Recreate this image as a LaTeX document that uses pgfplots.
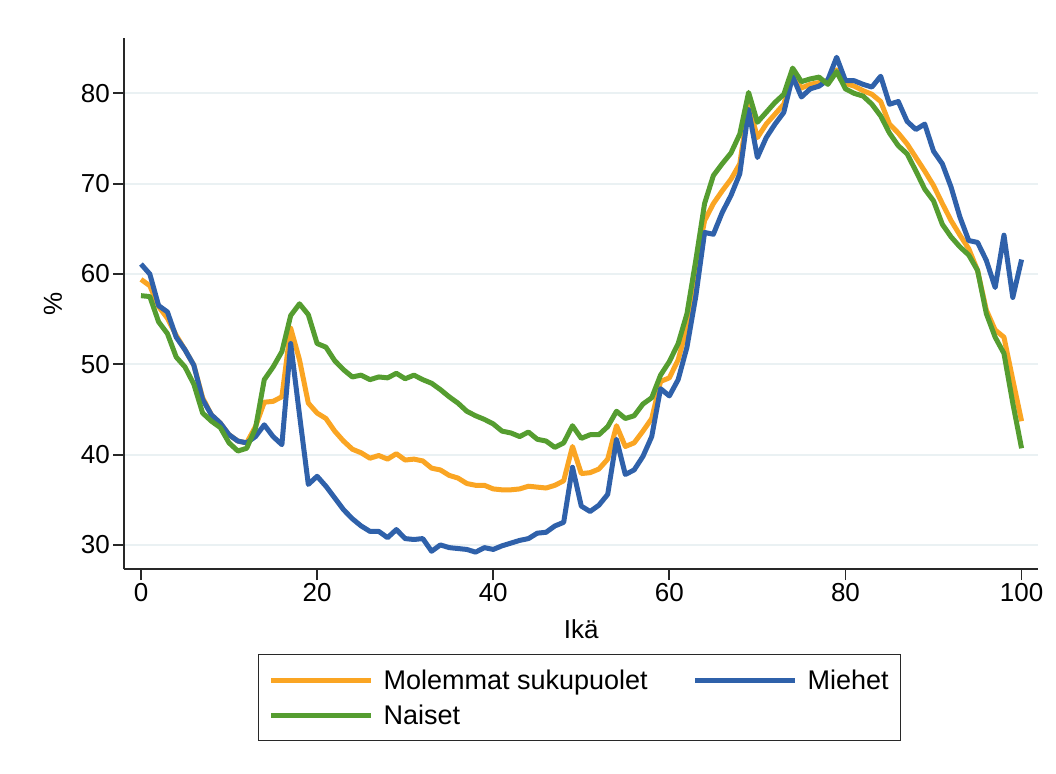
\documentclass[border=0pt]{standalone}
\usepackage{pgfplots}
\pgfplotsset{compat=1.18}
\usepackage{pgfplotstable}
\usepackage{fontspec}
\setmainfont{Liberation Sans}
\definecolor{cOr}{RGB}{250,165,35}
\definecolor{cBl}{RGB}{47,97,170}
\definecolor{cGr}{RGB}{85,157,48}
\definecolor{cGrid}{RGB}{234,241,243}
\definecolor{cAx}{RGB}{40,40,40}

\pgfplotstableread{
age both men women
0 59.4 61.1 57.6
1 58.7 60.0 57.5
2 56.4 56.5 54.7
3 55.1 55.8 53.4
4 53.2 53.0 50.8
5 51.6 51.6 49.7
6 49.9 49.9 47.8
7 46.3 46.1 44.6
8 44.4 44.4 43.7
9 43.5 43.5 43.0
10 42.2 42.2 41.3
11 41.5 41.5 40.4
12 41.3 41.3 40.7
13 43.1 42.0 42.9
14 45.8 43.3 48.3
15 45.9 42.0 49.7
16 46.4 41.1 51.4
17 54.0 52.3 55.4
18 50.5 44.4 56.7
19 45.7 36.7 55.5
20 44.6 37.6 52.3
21 44.0 36.5 51.9
22 42.6 35.2 50.4
23 41.5 33.9 49.4
24 40.6 32.9 48.6
25 40.2 32.1 48.8
26 39.6 31.5 48.3
27 39.9 31.5 48.6
28 39.5 30.8 48.5
29 40.1 31.7 49.0
30 39.4 30.7 48.4
31 39.5 30.6 48.8
32 39.3 30.7 48.3
33 38.5 29.3 47.9
34 38.3 30.0 47.2
35 37.7 29.7 46.4
36 37.4 29.6 45.7
37 36.8 29.5 44.8
38 36.6 29.2 44.3
39 36.6 29.7 43.9
40 36.2 29.5 43.4
41 36.1 29.9 42.6
42 36.1 30.2 42.4
43 36.2 30.5 42.0
44 36.5 30.7 42.5
45 36.4 31.3 41.7
46 36.3 31.4 41.5
47 36.6 32.1 40.8
48 37.1 32.5 41.3
49 40.9 38.6 43.2
50 37.9 34.3 41.8
51 38.0 33.7 42.2
52 38.4 34.4 42.2
53 39.5 35.6 43.1
54 43.2 41.7 44.8
55 40.9 37.8 44.0
56 41.3 38.3 44.3
57 42.6 39.8 45.6
58 44.0 42.0 46.3
59 48.1 47.3 48.8
60 48.5 46.5 50.3
61 50.5 48.3 52.3
62 54.1 51.9 55.6
63 60.8 57.5 61.5
64 65.9 64.6 67.8
65 67.8 64.4 70.9
66 69.2 66.8 72.2
67 70.5 68.7 73.4
68 72.2 71.1 75.5
69 78.8 78.2 80.1
70 75.1 72.9 76.8
71 76.6 75.1 77.9
72 77.7 76.6 79.0
73 78.8 77.9 79.9
74 82.1 81.9 82.8
75 80.6 79.6 81.3
76 81.0 80.5 81.6
77 81.2 80.8 81.8
78 81.4 81.5 81.0
79 82.6 84.0 82.4
80 81.1 81.4 80.5
81 80.8 81.4 80.0
82 80.3 81.0 79.7
83 79.9 80.7 78.8
84 79.1 81.9 77.5
85 76.6 78.8 75.6
86 75.6 79.1 74.2
87 74.4 76.9 73.3
88 72.9 76.0 71.4
89 71.4 76.6 69.4
90 69.8 73.6 68.1
91 67.8 72.2 65.5
92 65.9 69.6 64.1
93 64.3 66.3 63.0
94 62.8 63.7 62.1
95 60.4 63.5 60.4
96 56.0 61.5 55.6
97 53.8 58.5 53.0
98 53.0 64.3 51.2
99 48.3 57.4 45.7
100 43.7 61.6 40.7
}\datatable

\begin{document}
\begin{tikzpicture}[x=1pt,y=1pt]
\useasboundingbox (0,0) rectangle (1056,773);
\begin{axis}[
  at={(124pt,203.7pt)}, anchor=south west,
  scale only axis, width=914.3pt, height=531pt,
  xmin=-1.93, xmax=101.9, ymin=27.3, ymax=86.1,
  axis lines*=left,
  axis line style={cAx, line width=1.8pt},
  xtick={0,20,40,60,80,100},
  ytick={30,40,50,60,70,80},
  tick align=outside,
  major tick length=10.7pt,
  tick style={cAx, line width=1.8pt},
  ymajorgrids, grid style={cGrid, line width=1.8pt},
  /pgf/number format/assume math mode=true,
  tick label style={font=\fontsize{26}{31}\selectfont},
  xlabel={Ikä}, ylabel={\%},
  label style={font=\fontsize{26}{31}\selectfont},
  xlabel style={at={(axis description cs:0.5,-0.112)}, anchor=center},
  ylabel style={at={(axis description cs:-0.0777,0.5)}, anchor=center, rotate=0},
  legend columns=2,
  legend cell align=left,
  legend style={at={(axis description cs:0.1466,-0.1595)}, anchor=north west,
    draw=cAx, line width=1pt, font=\fontsize{27}{32}\selectfont,
    inner xsep=10pt, inner ysep=13pt, row sep=10pt,
    /tikz/every even column/.append style={column sep=43pt}},
  legend image code/.code={\draw[#1, line width=5pt] (0pt,0pt) -- (100pt,0pt); \path (108pt,0pt);},
  every axis plot/.append style={line width=5pt, line join=round, mark=none},
]
\addplot[cOr] table[x=age,y=both] {\datatable};
\addlegendentry{Molemmat sukupuolet}
\addplot[cBl] table[x=age,y=men] {\datatable};
\addlegendentry{Miehet}
\addplot[cGr] table[x=age,y=women] {\datatable};
\addlegendentry{Naiset}
\end{axis}
\end{tikzpicture}
\end{document}
